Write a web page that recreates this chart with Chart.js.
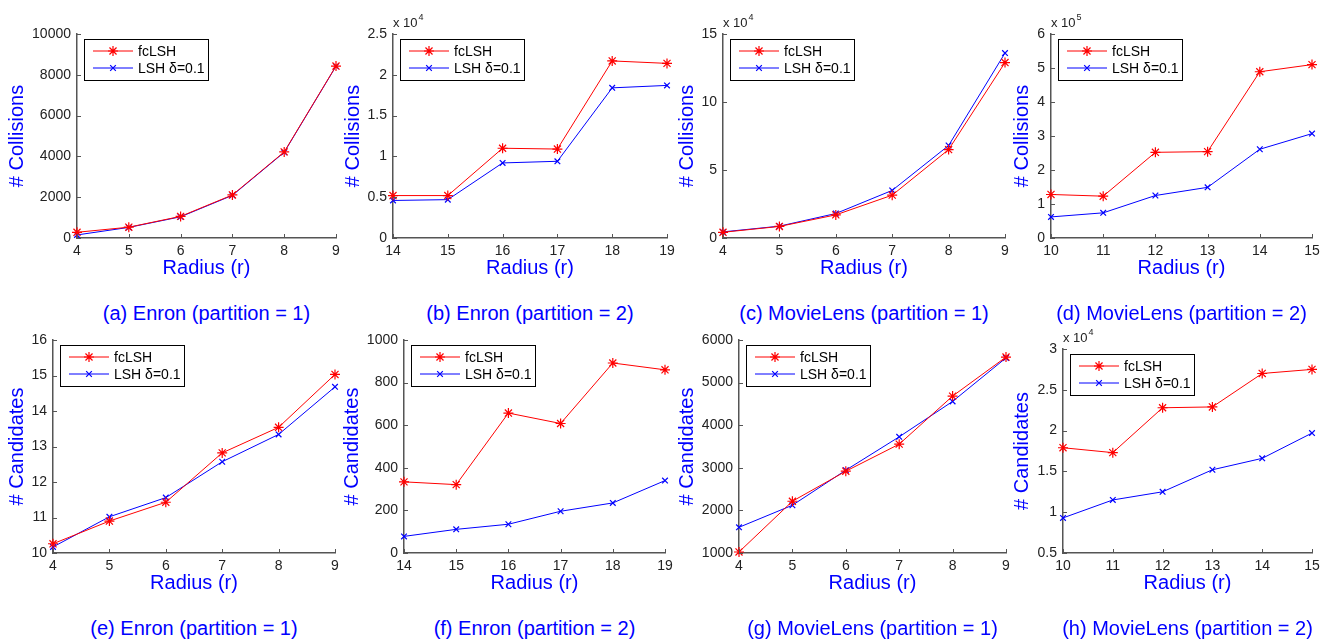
<!DOCTYPE html>
<html>
<head>
<meta charset="utf-8">
<script src="https://cdn.jsdelivr.net/npm/chart.js@4.4.0/dist/chart.umd.min.js"></script>
<style>
    body{margin:0;background:#fff;width:1321px;height:639px;overflow:hidden;position:relative;font-family:"Liberation Sans",Arial,sans-serif}
    .panel{position:absolute}
    .cap{position:absolute;color:#0000ff;font-size:20px;white-space:nowrap;transform:translate(-50%,-50%)}
</style>
</head>
<body>
<script>
    // radius values on the x axis
    var radiusA = ['4', '5', '6', '7', '8', '9'];
    var radiusB = ['14', '15', '16', '17', '18', '19'];
    var radiusD = ['10', '11', '12', '13', '14', '15'];

    var seriesNames = ['fcLSH', 'LSH \u03b4=0.1'];

    // # Collisions
    var fcA = [280, 530, 1060, 2110, 4220, 8430];
    var lshA = [150, 520, 1040, 2090, 4200, 8420];
    var fcB = [5200, 5200, 11000, 10900, 21700, 21400];
    var lshB = [4600, 4700, 9200, 9400, 18400, 18700];
    var fcC = [4200, 8500, 17000, 31500, 65000, 129000];
    var lshC = [4500, 8700, 18000, 35000, 68000, 136000];
    var fcD = [128000, 123000, 252000, 254000, 489000, 510000];
    var lshD = [62000, 74000, 125000, 149000, 261000, 307000];

    // # Candidates
    var fcE = [10.26, 10.9, 11.43, 12.82, 13.54, 15.03];
    var lshE = [10.17, 11.02, 11.56, 12.57, 13.34, 14.68];
    var fcF = [334, 321, 657, 608, 892, 860];
    var lshF = [78, 111, 135, 196, 235, 340];
    var fcG = [1024, 2215, 2920, 3555, 4683, 5600];
    var lshG = [1603, 2121, 2944, 3727, 4558, 5580];
    var fcH = [17900, 17300, 22800, 22900, 27000, 27500];
    var lshH = [9300, 11500, 12500, 15200, 16600, 19700];

    var captions = [
        '(a) Enron (partition = 1)', '(b) Enron (partition = 2)',
        '(c) MovieLens (partition = 1)', '(d) MovieLens (partition = 2)',
        '(e) Enron (partition = 1)', '(f) Enron (partition = 2)',
        '(g) MovieLens (partition = 1)', '(h) MovieLens (partition = 2)'
    ];

    var FONT = '"Liberation Sans", Arial, sans-serif';
    var AXIS_COLOR = '#555';
    var TEXT_COLOR = '#222';
    Chart.defaults.font.family = FONT;

    // plot rectangles in page pixels, plus y scale setup
    var panels = [
        {l: 77, r: 336, t: 34, b: 238, x: radiusA, fc: fcA, lsh: lshA, min: 0, max: 10000, step: 2000, exp: 0, title: '# Collisions', off: 60},
        {l: 393, r: 667, t: 34, b: 238, x: radiusB, fc: fcB, lsh: lshB, min: 0, max: 25000, step: 5000, exp: 4, title: '# Collisions', off: 40},
        {l: 723, r: 1005, t: 34, b: 238, x: radiusA, fc: fcC, lsh: lshC, min: 0, max: 150000, step: 50000, exp: 4, title: '# Collisions', off: 36},
        {l: 1051, r: 1312, t: 34, b: 238, x: radiusD, fc: fcD, lsh: lshD, min: 0, max: 600000, step: 100000, exp: 5, title: '# Collisions', off: 29},
        {l: 53, r: 335, t: 340, b: 553, x: radiusA, fc: fcE, lsh: lshE, min: 10, max: 16, step: 1, exp: 0, title: '# Candidates', off: 36},
        {l: 404, r: 665, t: 340, b: 553, x: radiusB, fc: fcF, lsh: lshF, min: 0, max: 1000, step: 200, exp: 0, title: '# Candidates', off: 52},
        {l: 739, r: 1006, t: 340, b: 553, x: radiusA, fc: fcG, lsh: lshG, min: 1000, max: 6000, step: 1000, exp: 0, title: '# Candidates', off: 52},
        {l: 1063, r: 1312, t: 349, b: 553, x: radiusD, fc: fcH, lsh: lshH, min: 5000, max: 30000, step: 5000, exp: 4, title: '# Candidates', off: 41}
    ];

    /**
     * Inward ticks, boxed legend and the "x 10^n" factor, MATLAB style.
     */
    var matlabPlugin = {
        id: 'matlab',
        afterDraw: function(chart){
            var ctx = chart.ctx, a = chart.chartArea;
            var ys = chart.scales.y, xs = chart.scales.x;
            var exp = chart.options.plugins.matlab.exp;
            ctx.save();

            ctx.strokeStyle = AXIS_COLOR;
            ctx.lineWidth = 1;
            ctx.beginPath();
            ys.ticks.forEach(function(t){
                var y = Math.round(ys.getPixelForValue(t.value)) + 0.5;
                ctx.moveTo(a.left, y); ctx.lineTo(a.left + 4, y);
            });
            xs.ticks.forEach(function(t, i){
                var x = Math.round(xs.getPixelForTick(i)) + 0.5;
                ctx.moveTo(x, a.bottom); ctx.lineTo(x, a.bottom - 4);
            });
            ctx.stroke();

            // legend box
            var bx = Math.round(a.left) + 7, by = Math.round(a.top) + 5;
            ctx.fillStyle = '#fff';
            ctx.fillRect(bx, by, 124, 41);
            ctx.strokeStyle = '#000';
            ctx.strokeRect(bx + 0.5, by + 0.5, 124, 41);
            chart.data.datasets.forEach(function(ds, i){
                var y = by + 12 + i * 17;
                ctx.strokeStyle = ds.borderColor;
                ctx.lineWidth = 1;
                ctx.beginPath(); ctx.moveTo(bx + 9, y); ctx.lineTo(bx + 49, y); ctx.stroke();
                ctx.lineWidth = ds.pointBorderWidth;
                Chart.helpers.drawPoint(ctx, {pointStyle: ds.pointStyle, radius: ds.pointRadius, borderWidth: ds.pointBorderWidth, rotation: 0}, bx + 29, y);
                ctx.fillStyle = '#000';
                ctx.font = '14px ' + FONT;
                ctx.textBaseline = 'middle';
                ctx.textAlign = 'left';
                ctx.fillText(ds.label, bx + 54, y + 1);
            });

            // exponent factor above the y axis
            if (exp) {
                ctx.fillStyle = TEXT_COLOR;
                ctx.textBaseline = 'alphabetic';
                ctx.textAlign = 'left';
                ctx.font = '13px ' + FONT;
                ctx.fillText('x 10', a.left, a.top - 7);
                var w = ctx.measureText('x 10').width;
                ctx.font = '9px ' + FONT;
                ctx.fillText(String(exp), a.left + w + 1, a.top - 14);
            }
            ctx.restore();
        }
    };

    panels.forEach(function(p, n){
        var yAxisW = p.off + 12, xAxisH = 42, padTop = 30, padRight = 25;
        var w = (p.r - p.l) + yAxisW + padRight;
        var h = (p.b - p.t) + padTop + xAxisH;

        var div = document.createElement('div');
        div.className = 'panel';
        div.style.left = (p.l - yAxisW) + 'px';
        div.style.top = (p.t - padTop) + 'px';
        var canvas = document.createElement('canvas');
        canvas.width = w;
        canvas.height = h;
        div.appendChild(canvas);
        document.body.appendChild(div);

        var cap = document.createElement('div');
        cap.className = 'cap';
        cap.style.left = ((p.l + p.r) / 2) + 'px';
        cap.style.top = (p.b + 75) + 'px';
        cap.textContent = captions[n];
        document.body.appendChild(cap);

        var factor = Math.pow(10, p.exp);

        new Chart(canvas.getContext('2d'), {
            type: 'line',
            data: {
                labels: p.x,
                datasets: [{
                    label: seriesNames[0],
                    data: p.fc,
                    borderColor: '#ff0000',
                    backgroundColor: '#ff0000',
                    borderWidth: 1,
                    pointStyle: 'star',
                    pointRadius: 5,
                    pointBorderWidth: 1.2,
                    pointBorderColor: '#ff0000',
                    clip: false
                }, {
                    label: seriesNames[1],
                    data: p.lsh,
                    borderColor: '#0000ff',
                    backgroundColor: '#0000ff',
                    borderWidth: 1,
                    pointStyle: 'crossRot',
                    pointRadius: 4,
                    pointBorderWidth: 1.2,
                    pointBorderColor: '#0000ff',
                    clip: false
                }]
            },
            options: {
                responsive: false,
                animation: false,
                events: [],
                layout: {padding: {left: 0, top: padTop, right: padRight, bottom: 0}},
                plugins: {
                    legend: {display: false},
                    tooltip: {enabled: false},
                    matlab: {exp: p.exp}
                },
                scales: {
                    x: {
                        type: 'category',
                        offset: false,
                        grid: {display: false, drawTicks: false},
                        border: {display: true, color: AXIS_COLOR, width: 1.5},
                        ticks: {color: TEXT_COLOR, font: {size: 14}, padding: 5, maxRotation: 0, autoSkip: false},
                        title: {display: true, text: 'Radius (r)', color: '#0000ff', font: {size: 20}, padding: 0},
                        afterFit: function(axis){ axis.height = xAxisH; }
                    },
                    y: {
                        type: 'linear',
                        min: p.min,
                        max: p.max,
                        grid: {display: false, drawTicks: false},
                        border: {display: true, color: AXIS_COLOR, width: 1.5},
                        ticks: {
                            stepSize: p.step,
                            color: TEXT_COLOR,
                            font: {size: 14},
                            padding: 6,
                            callback: function(v){ return String(Math.round(v / factor * 100) / 100); }
                        },
                        title: {display: true, text: p.title, color: '#0000ff', font: {size: 20}, padding: 0},
                        afterFit: function(axis){ axis.width = yAxisW; }
                    }
                }
            },
            plugins: [matlabPlugin]
        });
    });
</script>
</body>
</html>
